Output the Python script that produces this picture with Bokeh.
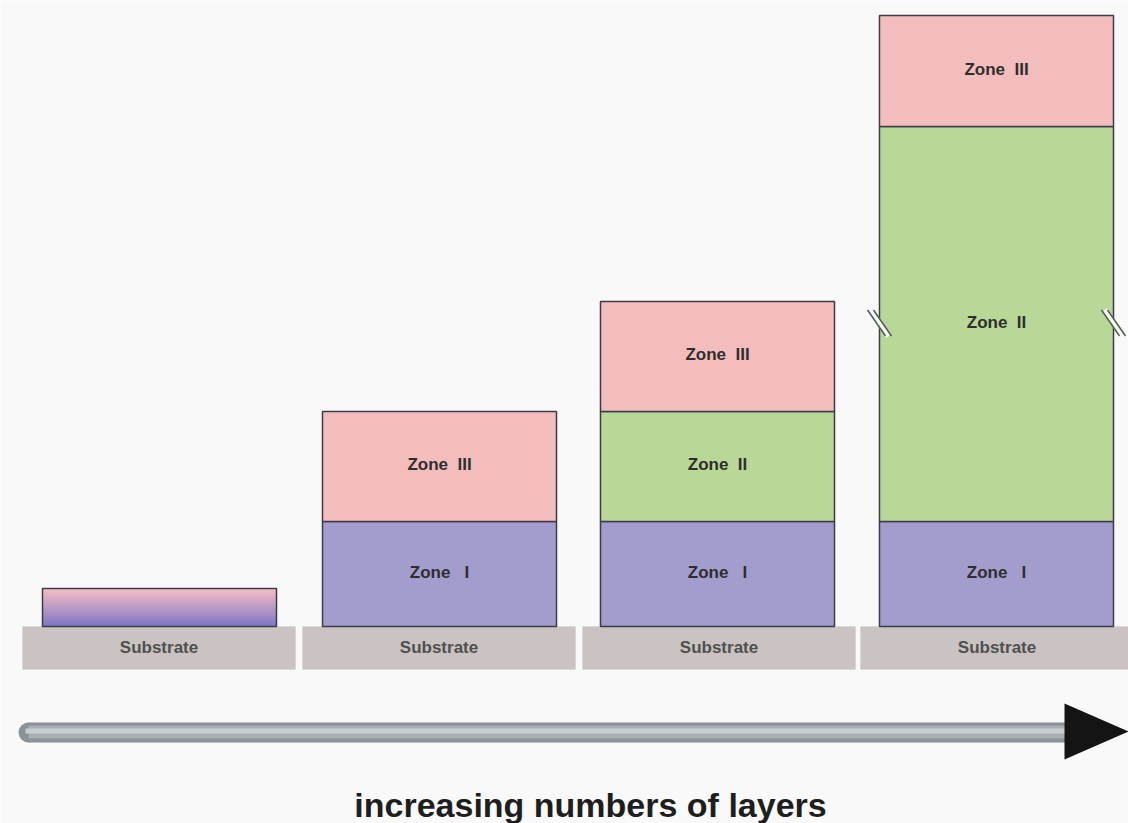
import numpy as np
from bokeh.plotting import figure
from bokeh.models import Range1d
from bokeh.core.properties import value
from bokeh.embed import file_html
from bokeh.resources import INLINE

# ---- data (layer thicknesses, arbitrary units) ----
stages = ["1", "2", "3", "4"]
thin_layer = [38, 0, 0, 0]            # first, mixed thin film
zone_I = [0, 105, 105, 105]
zone_II = [0, 0, 110, 395]
zone_III = [0, 110, 110, 111]
zone_names = ["Zone\u00a0\u00a0\u00a0I", "Zone\u00a0\u00a0II", "Zone\u00a0\u00a0III"]
substrate_label = "Substrate"
axis_label = "increasing numbers of layers"

# ---- colours ----
BG = "#f9f9f9"
C_I = "#a29dcc"
C_II = "#b9d898"
C_III = "#f4bdbd"
C_SUB = "#cbc3c1"
EDGE = "#3c3c48"

# ---- layout (figure units ~ pixels) ----
stack_left = [42, 322, 600, 879]
stack_w = 234
sub_left = [22, 302, 582, 860]
sub_w = 273
sub_h = 43

p = figure(width=1128, height=823, output_backend="svg", toolbar_location=None,
           x_range=Range1d(0, 1128), y_range=Range1d(-197, 626),
           min_border=0, background_fill_color=BG, border_fill_color=BG,
           outline_line_color=None)
p.axis.visible = False
p.grid.visible = False

# substrates
p.quad(left=sub_left, right=[l + sub_w for l in sub_left], bottom=[-sub_h] * 4, top=[0] * 4,
       fill_color=C_SUB, line_color="#dbd6d4", line_width=1)
p.text(x=[l + sub_w / 2 for l in sub_left], y=[-sub_h / 2 + 1] * 4, text=[substrate_label] * 4,
       text_align="center", text_baseline="middle", text_font=value("Liberation Sans"),
       text_font_style="bold", text_font_size="17px", text_color="#505050")

# thin gradient layer of stage 1 (pink at top to purple at bottom)
n = 19
top_c = np.array([0xf4, 0xbd, 0xc4])
bot_c = np.array([0x80, 0x78, 0xc4])
for i, (h, l) in enumerate(zip(thin_layer, stack_left)):
    if h <= 0:
        continue
    for k in range(n):
        b = h * k / n
        t = min(h, h * (k + 1) / n + 0.8)
        f = k / (n - 1)
        c = bot_c + (top_c - bot_c) * f
        p.quad(left=[l], right=[l + stack_w], bottom=[b], top=[t],
               fill_color="#%02x%02x%02x" % tuple(int(v) for v in c), line_color=None)
    p.quad(left=[l], right=[l + stack_w], bottom=[0], top=[h],
           fill_color=None, line_color=EDGE, line_width=1.5)

# stacked zones
zones = [zone_I, zone_II, zone_III]
for zi, (vals, col, name) in enumerate(zip(zones, [C_I, C_II, C_III], zone_names)):
    for si in range(len(stages)):
        h = vals[si]
        if h <= 0:
            continue
        base = sum(zones[j][si] for j in range(zi))
        l = stack_left[si]
        p.quad(left=[l], right=[l + stack_w], bottom=[base], top=[base + h],
               fill_color=col, line_color=EDGE, line_width=1.5)
        p.text(x=[l + stack_w / 2], y=[base + h / 2 + 2], text=[name],
               text_align="center", text_baseline="middle",
               text_font=value("Liberation Sans"), text_font_style="bold",
               text_font_size="17px", text_color="#2e2e2e")

# break marks on the tallest zone II
si = 3
ymid = zone_I[si] + zone_II[si] / 2
for xe in [stack_left[si], stack_left[si] + stack_w]:
    p.segment(x0=[xe - 9], y0=[ymid + 14], x1=[xe + 9], y1=[ymid - 12],
              line_color=BG, line_width=6)
    for off in (-3, 3):
        p.segment(x0=[xe - 9 + off], y0=[ymid + 14], x1=[xe + 9 + off], y1=[ymid - 12],
                  line_color="#4d5e4a", line_width=1.5)

# arrow
ay = -106
x0, x1 = 28, 1066
p.quad(left=[x0], right=[x1], bottom=[ay - 10], top=[ay + 10], fill_color="#8c9197", line_color=None)
p.circle(x=[x0], y=[ay], radius=10, fill_color="#8c9197", line_color=None)
p.quad(left=[x0], right=[x1], bottom=[ay - 6], top=[ay + 7], fill_color="#a9aeb3", line_color=None)
p.quad(left=[x0 - 3], right=[x1], bottom=[ay - 1], top=[ay + 4], fill_color="#c9cdd1", line_color=None)
p.patch(x=[1064, 1064, 1128], y=[ay + 29, ay - 27, ay + 1], fill_color="#141414", line_color=None)

# axis caption
p.text(x=[590], y=[-178], text=[axis_label], text_align="center", text_baseline="middle",
       text_font=value("Liberation Sans"), text_font_style="bold",
       text_font_size="34px", text_color="#1e1e1e")

open("out.html", "w").write(file_html(p, INLINE))
